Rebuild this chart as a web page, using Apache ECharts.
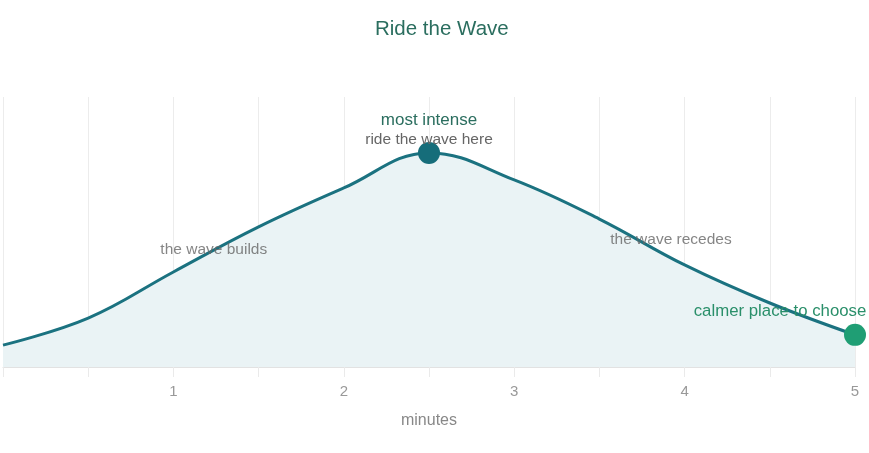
<!DOCTYPE html>
<html>
<head>
<meta charset="utf-8">
<script src="https://cdn.jsdelivr.net/npm/echarts@6/dist/echarts.min.js"></script>
<style>
  html, body { margin: 0; padding: 0; background: #fff; }
  #main { width: 869px; height: 453px; }
</style>
</head>
<body>
<div id="main"></div>
<script>
// wave data, minutes vs intensity
const minutes = [0, 0.5, 1, 1.5, 2, 2.5, 3, 3.5, 4, 4.5, 5];
const intensity = [8.1, 18.1, 35.2, 51.9, 66.3, 79.3, 69.3, 54.8, 37.8, 23.7, 11.9];
const tickLabels = ['1', '2', '3', '4', '5'];

// annotation texts
const peakPoint = [2.5, 79.3];
const endPoint = [5, 11.9];
const notes = [
  { text: 'the wave builds', at: [1.237, 43.3] },
  { text: 'the wave recedes', at: [3.92, 47] }
];

const FONT = 'Liberation Sans, Arial, sans-serif';
const chart = echarts.init(document.getElementById('main'));

chart.setOption({
  animation: false,
  title: {
    text: 'Ride the Wave',
    left: 370,
    top: 14,
    textStyle: { color: '#2b6e5f', fontSize: 20.5, fontWeight: 'normal', fontFamily: FONT }
  },
  grid: { left: 2, right: 14, top: 97, bottom: 86 },
  xAxis: {
    type: 'value',
    min: 0,
    max: 5,
    interval: 0.5,
    name: 'minutes',
    nameLocation: 'middle',
    nameGap: 46,
    nameTextStyle: { color: '#888', fontSize: 16, fontFamily: FONT },
    axisLine: { lineStyle: { color: '#e2e2e2' } },
    axisTick: { show: true, length: 10, lineStyle: { color: '#eaeaea' } },
    axisLabel: {
      color: '#999',
      fontSize: 15,
      margin: 17,
      fontFamily: FONT,
      formatter: function (v) {
        const i = tickLabels.indexOf(String(v));
        return i >= 0 ? tickLabels[i] : '';
      }
    },
    splitLine: { show: true, lineStyle: { color: '#ececec' } }
  },
  yAxis: {
    type: 'value',
    min: 0,
    max: 100,
    show: false,
    splitLine: { show: false }
  },
  series: [
    {
      type: 'line',
      data: minutes.map((m, i) => [m, intensity[i]]),
      smooth: 0.4,
      symbol: 'none',
      lineStyle: { color: '#1b7280', width: 3 },
      areaStyle: { color: '#eaf3f5', opacity: 1 },
      z: 2
    },
    {
      type: 'scatter',
      z: 5,
      data: [
        {
          value: peakPoint,
          symbolSize: 22,
          itemStyle: { color: '#166d7a', opacity: 1 },
          label: {
            show: true,
            position: 'top',
            distance: -7,
            formatter: '{a|most intense}\n{b|ride the wave here}',
            rich: {
              a: { color: '#2b6e5f', fontSize: 17, fontFamily: FONT, lineHeight: 19 },
              b: { color: '#666', fontSize: 15.5, fontFamily: FONT, lineHeight: 19 }
            }
          }
        },
        {
          value: endPoint,
          symbolSize: 22,
          itemStyle: { color: '#1f9e74', opacity: 1 },
          label: {
            show: true,
            position: 'top',
            offset: [-75, 1],
            formatter: 'calmer place to choose',
            color: '#2a8f6a',
            fontSize: 16.8,
            fontFamily: FONT
          }
        }
      ]
    },
    {
      type: 'scatter',
      z: 4,
      symbolSize: 0,
      silent: true,
      data: notes.map(n => ({ value: n.at, name: n.text })),
      label: {
        show: true,
        position: 'inside',
        formatter: '{b}',
        color: '#666',
        fontSize: 15.5,
        fontFamily: FONT
      }
    }
  ]
});
</script>
</body>
</html>
